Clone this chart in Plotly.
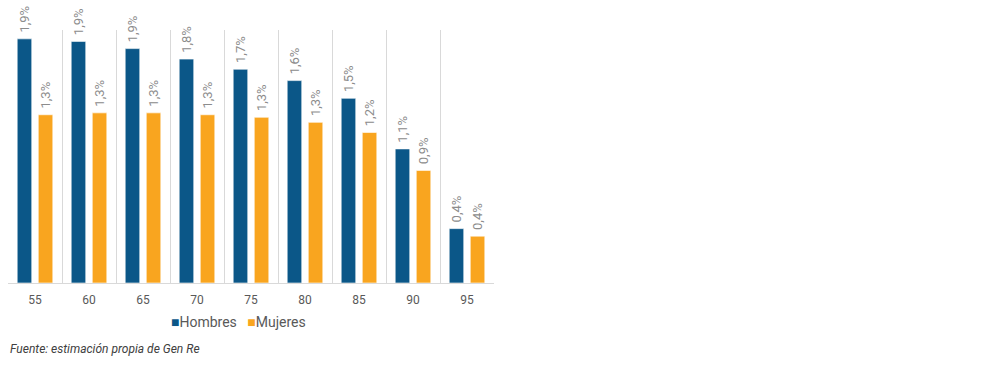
import plotly.graph_objects as go

categories = ["55", "60", "65", "70", "75", "80", "85", "90", "95"]
hombres = [0.0193, 0.0191, 0.01853, 0.0177, 0.0169, 0.0160, 0.0146, 0.0106, 0.0043]
mujeres = [0.0133, 0.01345, 0.01345, 0.0133, 0.0131, 0.0127, 0.0119, 0.0089, 0.0037]
series_names = ["Hombres", "Mujeres"]

BLUE = "#0b5788"
ORANGE = "#f9a51f"
FONT = "Roboto"

fig = go.Figure()
for name, vals, col in [(series_names[0], hombres, BLUE), (series_names[1], mujeres, ORANGE)]:
    fig.add_trace(go.Bar(
        x=categories, y=vals, name=name,
        marker=dict(color=col, line=dict(color="rgba(255,255,255,0.6)", width=1)),
        texttemplate="\u00a0%{y:.1%}", textposition="outside", textangle=-90,
        constraintext="none",
        textfont=dict(family=FONT, size=13, color="#8c8c8c"),
        cliponaxis=False, showlegend=False,
    ))

legend_html = (f"<span style='color:{BLUE}'>■</span>{series_names[0]}   "
               f"<span style='color:{ORANGE}'>■</span>{series_names[1]}")

fig.update_layout(
    width=1000, height=390,
    margin=dict(l=8, r=506, t=30, b=107),
    paper_bgcolor="white", plot_bgcolor="white",
    separators=",.",
    barmode="group", bargap=0.22, bargroupgap=0.31,
    font=dict(family=FONT, color="#595959"),
    showlegend=False,
    xaxis=dict(type="category", tickson="boundaries", showgrid=True, gridcolor="#d9d9d9",
               gridwidth=1, showline=True, linecolor="#d9d9d9", ticks="",
               ticklabelstandoff=6,
               tickfont=dict(family=FONT, size=12, color="#595959")),
    yaxis=dict(range=[0, 0.02], showgrid=False, zeroline=False, showticklabels=False,
               showline=False, ticks=""),
    annotations=[
        dict(text=legend_html, xref="paper", yref="paper",
             x=0.475, y=-0.154, xanchor="center", yanchor="middle", showarrow=False,
             font=dict(family=FONT, size=14, color="#595959")),
        dict(text="<i>Fuente: estimación propia de Gen Re</i>", xref="paper", yref="paper",
             x=0, y=-0.26, xanchor="left", yanchor="middle", showarrow=False,
             font=dict(family=FONT, size=12, color="#404040")),
    ],
)

fig.write_html("out.html")
